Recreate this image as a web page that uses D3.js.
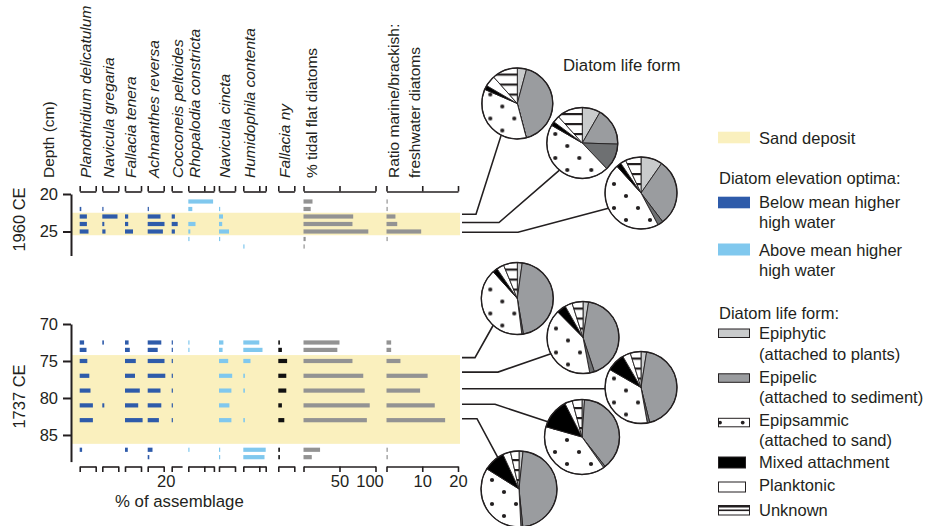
<!DOCTYPE html>
<html><head><meta charset="utf-8">
<script src="https://cdn.jsdelivr.net/npm/d3@7"></script>
<style>
body{margin:0;background:#fff}
svg{display:block}
text{font-family:"Liberation Sans",Arial,Helvetica,sans-serif;fill:#231f20}
</style>
</head><body>
<svg id="c" width="928" height="526"></svg>
<script>
// ---------------- DATA ----------------
const species = ["Planothidium delicatulum","Navicula gregaria","Fallacia tenera","Achnanthes reversa",
  "Cocconeis peltoides","Rhopalodia constricta","Navicula cincta","Humidophila contenta","Fallacia ny"];
const speciesGroup = ["below","below","below","below","below","above","above","above","other"];
const speciesAxisMax = [20,20,20,20,13,32,20,28,20];
const speciesAxisTicks = [[0,20],[0,20],[0,20],[0,20],[0],[0,20,32],[0,20],[0,20,28],[0,20]];
const speciesTickLabels = [[],[],[],["20"],[],[],[],[],[]];

const depth1960 = [21,22,23,24,25,26,27];
const pct1960 = [
  [0,2,9,9,11,0,0],
  [0,1.5,19,2.5,4,0,0],
  [0,0,4,4,10,0,0],
  [0,1.5,16,21,19,0,0],
  [0,0,4,7.5,4,0,0],
  [31,5,0,9,2.5,1.2,0],
  [0,1.5,5,4,12.5,1.2,0],
  [0,0,0,0,0,0,1.2],
  [0,0,0,0,0,0,0]
];
const tidal1960 = [12.5,10,69,68,90,3,1.5];
const ratio1960 = [0.3,0.2,2.5,3,9.7,0.3,0];
const sand1960 = [22.5,25.5];

const depth1737 = [72.5,73.5,75,77,79,81,83,87,88];
const pct1737 = [
  [5.5,8.5,9.5,12,13.5,16.5,16.5,3,0],
  [2,0,0,0,0,2.5,0,0,0],
  [4.5,6,13.5,12.5,18.5,16.5,22,3.5,0],
  [17,12.5,21,22,16,17,14,6,2],
  [1.5,1.5,1.5,1.5,1.5,1.5,1.5,0,0],
  [1.5,1.5,0,0,0,0,0,1.5,0],
  [5.5,4.5,11.5,16.5,15.5,13,15.5,1.5,1.5],
  [20,24,9,2,2,0,2,28,26.5],
  [2,4.5,11,10,10,4.5,7.5,2,2]
];
const tidal1737 = [50,47,68,83,85,92,88,23,11.5];
const ratio1737 = [1.3,1.3,3.9,11.5,9.4,13.5,16.4,0.35,0.35];
const sand1737 = [74.2,86.2];

const tidalTicks = [0,50,100];
const ratioTicks = [0,10,20];
const depthTicks1960 = [20,25];
const depthTicks1737 = [70,75,80,85];

// life forms: Epiphytic, Epipelic, Epipelic(dark), Epipsammic, Mixed, Planktonic, Unknown
const lifeForms = ["Epiphytic","Epipelic","EpipelicDark","Epipsammic","Mixed attachment","Planktonic","Unknown"];
const pie1960 = [
  [4.2,41.7,0,35.6,1.9,5,11.6],
  [8.3,17.2,12.4,45.4,1.9,3.1,11.7],
  [9.7,30,2.5,46.1,2.2,2.5,7]
];
const pie1737 = [
  [2.2,45.1,0.7,40.3,2.2,3.3,6.2],
  [2.5,42.4,2.1,40.6,4.2,3.3,4.9],
  [2.5,43.6,1.1,36.1,8.3,3.6,4.8],
  [1.1,38.3,0.8,39.2,13.1,3.3,4.2],
  [1.7,46.7,0.8,34.7,9.2,3.3,3.6]
];
const pointer1960 = [22.7,23.8,25.1];
const pointer1737 = [74.55,76.5,78.75,80.85,82.8];

// ---------------- LAYOUT ----------------
const ink = "#231f20";
const colors = {sand:"#faf0be", below:"#2e5baa", above:"#80c8ee", other:"#111111", gray:"#939393"};
const colX = [79.7,102.3,125,147.7,171.7,188.3,219,243.3,278.3];
const pxPerPct = 0.8;
const barH = 4.2;
const topBracketY = 191.5, botBracketY = 466.5;
const FS = 16.5;

const svg = d3.select("#c");
const defs = svg.append("defs");
const dp = defs.append("pattern").attr("id","dots").attr("patternUnits","userSpaceOnUse")
  .attr("width",24).attr("height",24);
dp.append("rect").attr("width",24).attr("height",24).attr("fill","#fff");
[[9,3],[21,15]].forEach(([x,y])=>dp.append("circle").attr("cx",x).attr("cy",y).attr("r",2.1).attr("fill",ink));
const sp = defs.append("pattern").attr("id","stripes").attr("patternUnits","userSpaceOnUse")
  .attr("width",10).attr("height",10);
sp.append("rect").attr("width",10).attr("height",10).attr("fill","#fff");
sp.append("rect").attr("y",0).attr("width",10).attr("height",2.2).attr("fill",ink);

const yTop = d3.scaleLinear().domain([20,28.2]).range([194,255.5]);
const yBot = d3.scaleLinear().domain([70,88.6]).range([324,461.6]);
const xTidal = d3.scaleLinear().domain([0,100]).range([303.5,375.5]);
const xRatio = d3.scaleLinear().domain([0,20]).range([386.5,458]);
const xSpecies = species.map((s,i)=>d3.scaleLinear().domain([0,speciesAxisMax[i]]).range([colX[i], colX[i]+speciesAxisMax[i]*pxPerPct]));

const panels = [
  {depths:depth1960, pct:pct1960, tidal:tidal1960, ratio:ratio1960, sand:sand1960, y:yTop, ticks:depthTicks1960, label:"1960 CE", ly:219.5},
  {depths:depth1737, pct:pct1737, tidal:tidal1737, ratio:ratio1737, sand:sand1737, y:yBot, ticks:depthTicks1737, label:"1737 CE", ly:396.5}
];

panels.forEach(P=>{
  const g = svg.append("g");
  g.append("rect").attr("x",71).attr("y",P.y(P.sand[0])).attr("width",460-71)
    .attr("height",P.y(P.sand[1])-P.y(P.sand[0])).attr("fill",colors.sand);
  P.pct.forEach((vals,i)=>{
    g.selectAll(null).data(vals.map((v,k)=>({v,d:P.depths[k]})).filter(d=>d.v>0)).join("rect")
      .attr("x",xSpecies[i](0)).attr("y",d=>P.y(d.d)-barH/2)
      .attr("width",d=>Math.max(1.2,xSpecies[i](d.v)-xSpecies[i](0))).attr("height",barH)
      .attr("fill",colors[speciesGroup[i]]);
  });
  g.selectAll(null).data(P.tidal.map((v,k)=>({v,d:P.depths[k]})).filter(d=>d.v>0)).join("rect")
    .attr("x",xTidal(0)).attr("y",d=>P.y(d.d)-barH/2)
    .attr("width",d=>Math.max(1.2,xTidal(d.v)-xTidal(0))).attr("height",barH).attr("fill",colors.gray);
  g.selectAll(null).data(P.ratio.map((v,k)=>({v,d:P.depths[k]})).filter(d=>d.v>0)).join("rect")
    .attr("x",xRatio(0)).attr("y",d=>P.y(d.d)-barH/2)
    .attr("width",d=>Math.max(1.2,xRatio(d.v)-xRatio(0))).attr("height",barH).attr("fill",colors.gray);
  const ax = g.append("g").attr("transform","translate(71,0)")
    .call(d3.axisLeft(P.y).tickValues(P.ticks).tickSize(8).tickSizeOuter(0).tickPadding(5));
  ax.selectAll("path,line").attr("stroke",ink).attr("stroke-width",2);
  ax.selectAll("text").attr("font-size",FS).attr("fill",ink).attr("font-family","Liberation Sans, Arial, sans-serif");
  g.append("text").attr("transform",`translate(24.5,${P.ly}) rotate(-90)`)
    .attr("text-anchor","middle").attr("font-size",FS).text(P.label);
});

function bracket(scale, ticks, y, top, labels){
  const a = (top? d3.axisTop(scale) : d3.axisBottom(scale)).tickValues(ticks).tickSize(5.5).tickSizeOuter(0)
    .tickFormat((d)=> labels ? (labels[ticks.indexOf(d)]||"") : "");
  const g = svg.append("g").attr("transform",`translate(0,${y})`).call(a);
  g.selectAll("path,line").attr("stroke",ink).attr("stroke-width",1.6);
  g.selectAll("text").attr("font-size",FS).attr("fill",ink).attr("font-family","Liberation Sans, Arial, sans-serif");
  return g;
}
species.forEach((s,i)=>{
  const ticks = speciesAxisTicks[i];
  bracket(xSpecies[i], ticks, topBracketY, true, null);
  const b = bracket(xSpecies[i], ticks, botBracketY, false, ticks.map(t=> (speciesTickLabels[i].includes(String(t))? String(t):"")));
  b.selectAll("text").attr("dx",2);
});
bracket(xTidal, tidalTicks, topBracketY, true, null);
const bt = bracket(xTidal, tidalTicks, botBracketY, false, ["","50","100"]);
bt.selectAll("text").filter(d=>d===100).attr("dx",-6);
bracket(xRatio, ratioTicks, topBracketY, true, null);
bracket(xRatio, ratioTicks, botBracketY, false, ["","10","20"]);

svg.append("text").attr("x",115).attr("y",506.5).attr("font-size",FS+0.3).text("% of assemblage");

const header = svg.append("g");
function vtext(x, y, t, italic){
  header.append("text").attr("transform",`translate(${x},${y}) rotate(-90)`)
    .attr("font-size",15.5).attr("font-style",italic?"italic":null).text(t);
}
vtext(53.5,178,"Depth (cm)",false);
species.forEach((s,i)=>vtext(colX[i]+11.3,178,s,true));
vtext(316.5,178,"% tidal flat diatoms",false);
vtext(398.5,178,"Ratio marine/brackish:",false);
vtext(419.5,178,"freshwater diatoms",false);

const pieGeom = [
  {cx:517.3,cy:103.5,r:35.5,bend:476,ang:207},
  {cx:582.3,cy:143,r:35.5,bend:499,ang:220},
  {cx:641,cy:193,r:36,bend:518,ang:245},
  {cx:517.3,cy:298.5,r:36,bend:475,ang:222},
  {cx:583,cy:337.5,r:36,bend:498,ang:243},
  {cx:641,cy:387.5,r:36,bend:520,ang:268},
  {cx:582,cy:437,r:37.5,bend:495,ang:294},
  {cx:519,cy:489,r:38,bend:477,ang:326}
];
const allPies = pie1960.concat(pie1737);
const pointerY = pointer1960.map(d=>yTop(d)).concat(pointer1737.map(d=>yBot(d)));
const fills = ["#c9cbcc","#9a9c9f","#6e7072","url(#dots)","#000","#fff","url(#stripes)"];
const pieGen = d3.pie().sort(null).value(d=>d);
allPies.forEach((vals,i)=>{
  const G = pieGeom[i];
  const a = G.ang*Math.PI/180;
  const ex = G.cx + G.r*Math.sin(a), ey = G.cy - G.r*Math.cos(a);
  svg.append("path").attr("d",`M462,${pointerY[i]}H${G.bend}L${ex},${ey}`)
    .attr("fill","none").attr("stroke",ink).attr("stroke-width",1.6);
  const g = svg.append("g").attr("transform",`translate(${G.cx},${G.cy})`);
  const arc = d3.arc().innerRadius(0).outerRadius(G.r);
  g.selectAll("path").data(pieGen(vals)).join("path")
    .attr("d",arc).attr("fill",(d,k)=>fills[k]).attr("stroke",ink).attr("stroke-width",0.9)
    .attr("stroke-linejoin","round");
  g.append("circle").attr("r",G.r).attr("fill","none").attr("stroke",ink).attr("stroke-width",1.4);
});
svg.append("text").attr("x",563).attr("y",70.5).attr("font-size",16.8).text("Diatom life form");

const L = svg.append("g");
L.append("rect").attr("x",718).attr("y",131.7).attr("width",32).attr("height",11.6).attr("fill",colors.sand);
L.append("text").attr("x",759).attr("y",143.8).attr("font-size",FS).text("Sand deposit");
L.append("text").attr("x",719).attr("y",184).attr("font-size",FS).text("Diatom elevation optima:");
L.append("rect").attr("x",718).attr("y",196.7).attr("width",32).attr("height",11.6).attr("fill",colors.below);
L.append("text").attr("x",759).attr("y",208.3).attr("font-size",FS).text("Below mean higher");
L.append("text").attr("x",759).attr("y",228.3).attr("font-size",FS).text("high water");
L.append("rect").attr("x",718).attr("y",243.5).attr("width",32).attr("height",12).attr("fill",colors.above);
L.append("text").attr("x",759).attr("y",256).attr("font-size",FS).text("Above mean higher");
L.append("text").attr("x",759).attr("y",275.7).attr("font-size",FS).text("high water");
L.append("text").attr("x",719).attr("y",319).attr("font-size",FS).text("Diatom life form:");

const lf = [
  {y:329,h:8.5,w:31,fill:"#c9cbcc",t:["Epiphytic","(attached to plants)"],b:[339.3,359.5]},
  {y:373.8,h:8.5,w:31,fill:"#9a9c9f",t:["Epipelic","(attached to sediment)"],b:[382.7,402.7]},
  {y:418.3,h:8.5,w:31,fill:"#fff",t:["Epipsammic","(attached to sand)"],b:[426,446],dots:true},
  {y:457,h:11,w:27,fill:"#000",t:["Mixed attachment"],b:[467.7]},
  {y:482,h:10,w:27,fill:"#fff",t:["Planktonic"],b:[491]},
  {y:505.5,h:9.5,w:31,fill:"#fff",t:["Unknown"],b:[516],stripes:true}
];
lf.forEach(d=>{
  L.append("rect").attr("x",718.5).attr("y",d.y).attr("width",d.w).attr("height",d.h)
    .attr("fill",d.fill).attr("stroke",ink).attr("stroke-width",1);
  if(d.dots){[720,742.7].forEach(x=>L.append("circle").attr("cx",x).attr("cy",d.y+d.h/2).attr("r",1.9).attr("fill",ink));}
  if(d.stripes){
    L.append("rect").attr("x",718.5).attr("y",d.y-0.5).attr("width",d.w).attr("height",2.5).attr("fill",ink);
    L.append("rect").attr("x",718.5).attr("y",d.y+4).attr("width",d.w).attr("height",1.6).attr("fill",ink);
  }
  d.t.forEach((t,k)=>L.append("text").attr("x",759).attr("y",d.b[k]).attr("font-size",FS).text(t));
});
</script>
</body></html>
